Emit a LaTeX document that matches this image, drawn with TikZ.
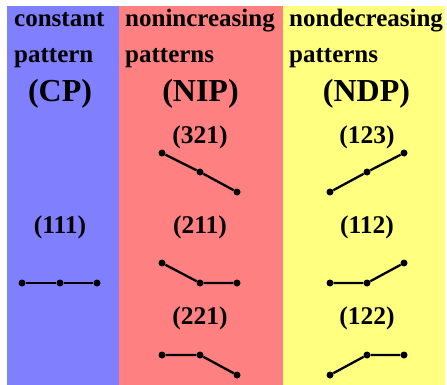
\documentclass[tikz,border=0pt]{standalone}
\usepackage{fontspec}
\setmainfont{Liberation Serif}
\begin{document}
\begin{tikzpicture}[x=1pt,y=-1pt,
  head/.style={anchor=base west,inner sep=0pt,font=\fontsize{25}{25}\selectfont\bfseries},
  title/.style={anchor=base,inner sep=0pt,font=\fontsize{32}{32}\selectfont\bfseries},
  code/.style={anchor=base,inner sep=0pt,font=\fontsize{25.5}{25.5}\selectfont\bfseries},
  pt/.style={circle,fill=black,inner sep=0pt,minimum size=7pt},
  seg/.style={line width=2.3pt}]
\useasboundingbox (0,0) rectangle (447,385);
\definecolor{cpblue}{RGB}{128,128,255}
\definecolor{nipred}{RGB}{255,128,128}
\definecolor{ndpyellow}{RGB}{255,255,128}
% column backgrounds
\fill[cpblue] (7,6) rectangle (119,385);
\fill[nipred] (119,6) rectangle (283,385);
\fill[ndpyellow] (283,6) rectangle (445,385);
% column headings
\node[head] (h1a) at (14,27) {constant};
\node[head] (h1b) at (14,63) {pattern};
\node[title] (t1) at (60,102) {(CP)};
\node[head] (h2a) at (125,27) {nonincreasing};
\node[head] (h2b) at (125,63) {patterns};
\node[title] (t2) at (200.5,102) {(NIP)};
\node[head] (h3a) at (289,27) {nondecreasing};
\node[head] (h3b) at (289,63) {patterns};
\node[title] (t3) at (366.5,102) {(NDP)};
% pattern codes
\node[code] (c321) at (200,143) {(321)};
\node[code] (c123) at (367,143) {(123)};
\node[code] (c111) at (60,233) {(111)};
\node[code] (c211) at (200,233) {(211)};
\node[code] (c112) at (367,233) {(112)};
\node[code] (c221) at (200,324) {(221)};
\node[code] (c122) at (367,324) {(122)};
% (321)
\node[pt] (a1) at (162,153) {};
\node[pt] (a2) at (200,172) {};
\node[pt] (a3) at (237,192) {};
\draw[seg] (a1) -- (a2) -- (a3);
% (123)
\node[pt] (b1) at (330,192) {};
\node[pt] (b2) at (367,172) {};
\node[pt] (b3) at (404,153) {};
\draw[seg] (b1) -- (b2) -- (b3);
% (111)
\node[pt] (d1) at (22,283) {};
\node[pt] (d2) at (60,283) {};
\node[pt] (d3) at (97,283) {};
\draw[seg] (d1) -- (d2) -- (d3);
% (211)
\node[pt] (e1) at (162,263) {};
\node[pt] (e2) at (200,283) {};
\node[pt] (e3) at (237,283) {};
\draw[seg] (e1) -- (e2) -- (e3);
% (112)
\node[pt] (f1) at (330,283) {};
\node[pt] (f2) at (367,283) {};
\node[pt] (f3) at (404,263) {};
\draw[seg] (f1) -- (f2) -- (f3);
% (221)
\node[pt] (g1) at (162,355) {};
\node[pt] (g2) at (200,355) {};
\node[pt] (g3) at (237,375) {};
\draw[seg] (g1) -- (g2) -- (g3);
% (122)
\node[pt] (k1) at (330,375) {};
\node[pt] (k2) at (367,355) {};
\node[pt] (k3) at (404,355) {};
\draw[seg] (k1) -- (k2) -- (k3);
\end{tikzpicture}
\end{document}
